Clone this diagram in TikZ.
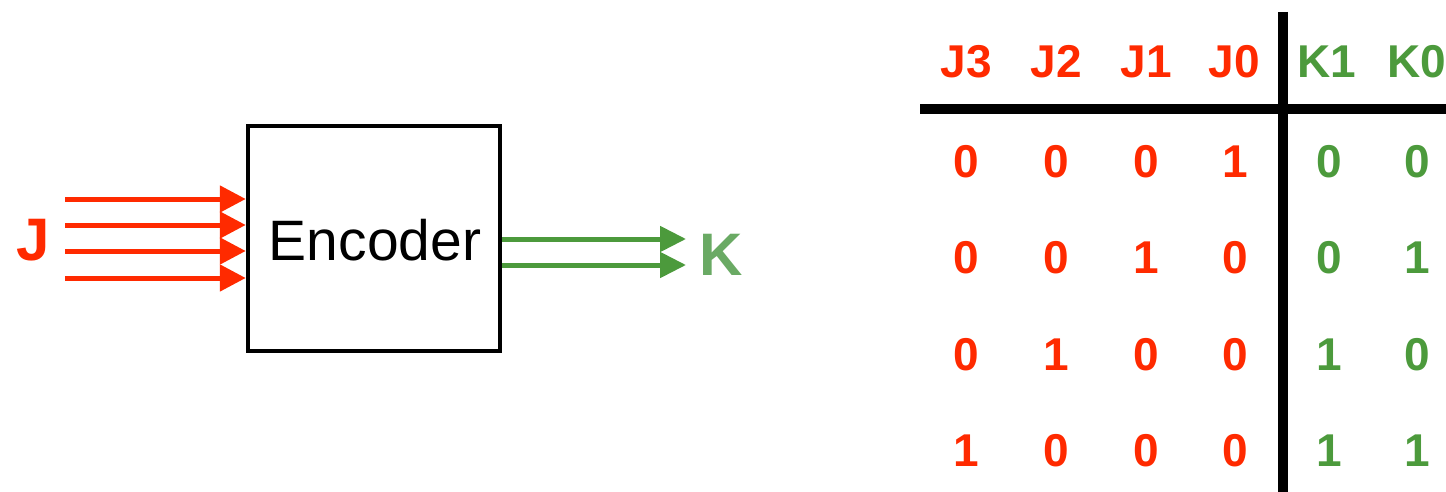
\documentclass[tikz,border=0pt]{standalone}
\usepackage{fontspec}
\setmainfont{Liberation Sans}
\usetikzlibrary{arrows.meta}
\definecolor{jred}{HTML}{FF2A00}
\definecolor{kgreen}{HTML}{4C9A3C}
\definecolor{klight}{HTML}{6AAA64}
\tikzset{
  redarrow/.style={draw=jred, line width=5pt, -{Triangle[length=26pt,width=26pt]}, color=jred},
  greenarrow/.style={draw=kgreen, line width=5pt, -{Triangle[length=26pt,width=25pt]}, color=kgreen},
  jcell/.style={text=jred, font=\fontsize{46}{46}\selectfont\bfseries, anchor=center, inner sep=0pt},
  kcell/.style={text=kgreen, font=\fontsize{46}{46}\selectfont\bfseries, anchor=center, inner sep=0pt},
  rule/.style={line width=10pt, black},
}
\begin{document}
\begin{tikzpicture}[x=1pt,y=-1pt]
\useasboundingbox (0,0) rectangle (1446,492);
% encoder block
\node[draw, line width=4.5pt, minimum width=252pt, minimum height=225pt, inner sep=0pt] (enc) at (374,238.5) {};
\node[font=\fontsize{57}{57}\selectfont, inner sep=0pt] (enctext) at (375,240) {Encoder};
% inputs
\node[text=jred, font=\fontsize{60}{60}\selectfont\bfseries, inner sep=0pt] (J) at (33,240) {J};
\foreach \i/\y in {1/199,2/225,3/251,4/278}{
  \coordinate (j\i) at (65,\y);
  \draw[redarrow] (j\i) -- (enc.west |- j\i);
}
% outputs
\node[text=klight, font=\fontsize{60}{60}\selectfont\bfseries, inner sep=0pt] (K) at (721,255) {K};
\foreach \i/\y in {1/239,2/265}{
  \coordinate (k\i) at (686,\y);
  \draw[greenarrow] (enc.east |- k\i) -- (k\i);
}
% table rules
\coordinate (vtop) at (1283,12);
\coordinate (vbot) at (1283,492);
\coordinate (hl) at (920,109);
\coordinate (hr) at (1446,109);
\draw[rule] (vtop) -- (vbot);
\draw[rule] (hl) -- (hr);
% header
\node[jcell] (h3) at (966,62) {J3};
\node[jcell] (h2) at (1056,62) {J2};
\node[jcell] (h1) at (1146,62) {J1};
\node[jcell] (h0) at (1234,62) {J0};
\node[kcell] (hk1) at (1327,62) {K1};
\node[kcell] (hk0) at (1417,62) {K0};
% rows
\foreach \r/\y/\a/\b/\c/\d/\e/\f in {1/162/0/0/0/1/0/0, 2/258/0/0/1/0/0/1, 3/355/0/1/0/0/1/0, 4/451/1/0/0/0/1/1}{
  \node[jcell] (r\r c1) at (966,\y) {\a};
  \node[jcell] (r\r c2) at (1056,\y) {\b};
  \node[jcell] (r\r c3) at (1146,\y) {\c};
  \node[jcell] (r\r c4) at (1235,\y) {\d};
  \node[kcell] (r\r c5) at (1329,\y) {\e};
  \node[kcell] (r\r c6) at (1417,\y) {\f};
}
\end{tikzpicture}
\end{document}
